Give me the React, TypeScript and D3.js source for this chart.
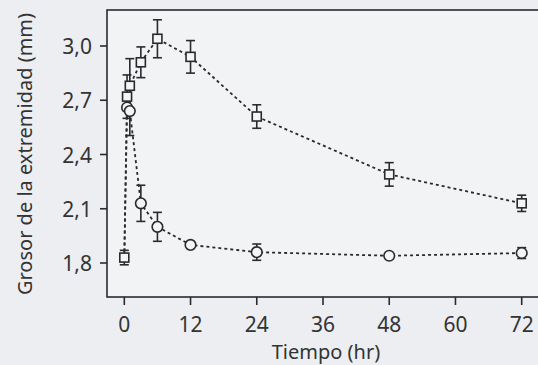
import React from "react";
import * as d3 from "d3";

const times = [0, 0.5, 1, 3, 6, 12, 24, 48, 72];
const squareValues = [1.83, 2.72, 2.78, 2.91, 3.04, 2.94, 2.61, 2.29, 2.13];
const squareErrors = [0.04, 0.12, 0.15, 0.085, 0.105, 0.09, 0.065, 0.065, 0.045];
const circleValues = [1.83, 2.66, 2.64, 2.13, 2.0, 1.9, 1.86, 1.84, 1.855];
const circleErrors = [0, 0, 0.135, 0.1, 0.08, 0, 0.045, 0, 0.03];
const xTicks = [0, 12, 24, 36, 48, 60, 72];
const yTicks = [1.8, 2.1, 2.4, 2.7, 3.0];
const xLabel = "Tiempo (hr)";
const yLabel = "Grosor de la extremidad (mm)";

const W = 538;
const H = 365;
const frame = { left: 107, top: 10, right: 560, bottom: 297 };
const FONT = "'Noto Sans', 'Open Sans', sans-serif";
const INK = "#2a2a2e";

export default function App() {
  const x = d3.scaleLinear().domain([0, 72]).range([124.3, 521.7]);
  const y = d3.scaleLinear().domain([1.8, 3.0]).range([263, 46]);
  const line = d3
    .line<number>()
    .x((_, i) => x(times[i]))
    .y((v) => y(v));

  const errorBars = (vals: number[], errs: number[], key: string) =>
    vals.map((v, i) =>
      errs[i] > 0 ? (
        <g key={key + i} stroke={INK} strokeWidth={1.6}>
          <line x1={x(times[i])} x2={x(times[i])} y1={y(v + errs[i])} y2={y(v - errs[i])} />
          <line x1={x(times[i]) - 4.5} x2={x(times[i]) + 4.5} y1={y(v + errs[i])} y2={y(v + errs[i])} />
          <line x1={x(times[i]) - 4.5} x2={x(times[i]) + 4.5} y1={y(v - errs[i])} y2={y(v - errs[i])} />
        </g>
      ) : null
    );

  return (
    <svg
      width={W}
      height={H}
      style={{ position: "absolute", left: 0, top: 0, display: "block" }}
      fontFamily={FONT}
    >
      <rect x={0} y={0} width={W} height={H} fill="#eceef1" />
      <rect
        x={frame.left}
        y={frame.top}
        width={frame.right - frame.left}
        height={frame.bottom - frame.top}
        fill="#f1f3f5"
        stroke={INK}
        strokeWidth={1.6}
      />
      {xTicks.map((t) => (
        <g key={"xt" + t}>
          <line x1={x(t)} x2={x(t)} y1={frame.bottom} y2={frame.bottom + 8} stroke={INK} strokeWidth={1.6} />
          <text x={x(t)} y={332} textAnchor="middle" fontSize={21} fill="#333">
            {String(t)}
          </text>
        </g>
      ))}
      {yTicks.map((t) => (
        <g key={"yt" + t}>
          <line x1={frame.left - 7} x2={frame.left} y1={y(t)} y2={y(t)} stroke={INK} strokeWidth={1.6} />
          <text x={92} y={y(t) + 8} textAnchor="end" fontSize={21} fill="#333">
            {t.toFixed(1).replace(".", ",")}
          </text>
        </g>
      ))}
      <text x={326} y={359} textAnchor="middle" fontSize={20} fill="#333">
        {xLabel}
      </text>
      <text
        transform={`translate(32, 154) rotate(-90)`}
        textAnchor="middle"
        fontSize={20}
        fill="#333"
      >
        {yLabel}
      </text>
      <path d={line(circleValues) || ""} fill="none" stroke={INK} strokeWidth={1.8} strokeDasharray="3,3" />
      <path d={line(squareValues) || ""} fill="none" stroke={INK} strokeWidth={1.8} strokeDasharray="3,3" />
      {errorBars(circleValues, circleErrors, "ce")}
      {errorBars(squareValues, squareErrors, "se")}
      {circleValues.map((v, i) =>
        i === 0 ? null : (
          <circle key={"c" + i} cx={x(times[i])} cy={y(v)} r={5.3} fill="#f4f5f7" stroke={INK} strokeWidth={1.6} />
        )
      )}
      {squareValues.map((v, i) => (
        <rect
          key={"s" + i}
          x={x(times[i]) - 4.5}
          y={y(v) - 4.5}
          width={9}
          height={9}
          fill="#f4f5f7"
          stroke={INK}
          strokeWidth={1.6}
        />
      ))}
    </svg>
  );
}
